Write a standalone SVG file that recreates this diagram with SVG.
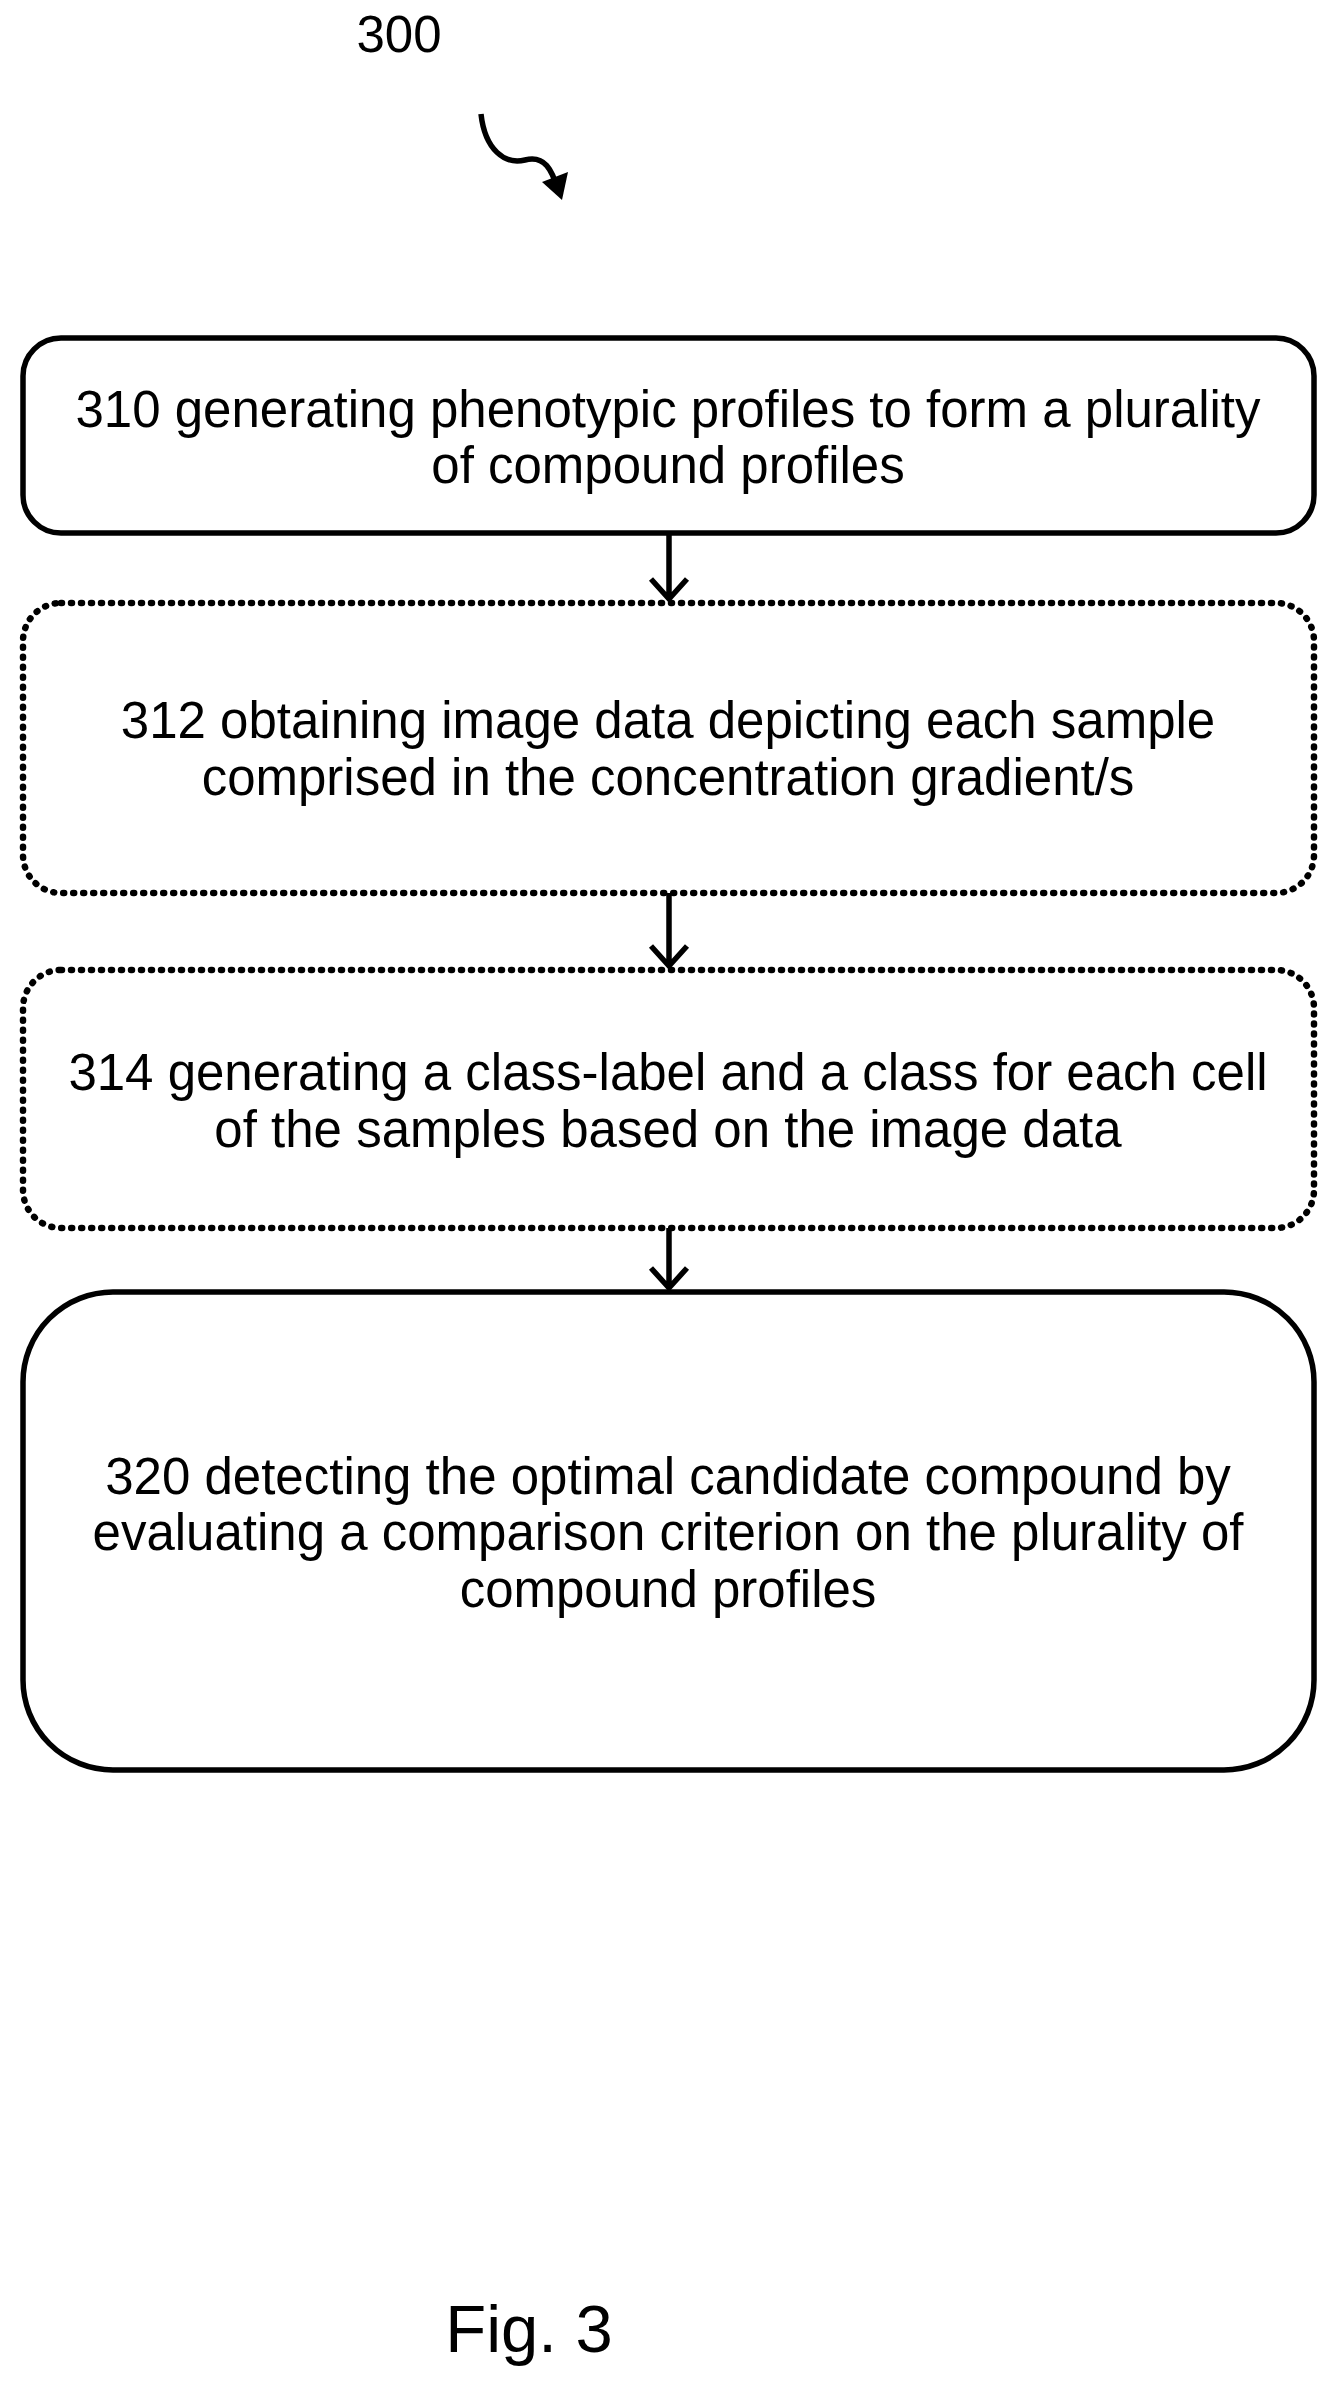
<svg xmlns="http://www.w3.org/2000/svg" width="1340" height="2391" viewBox="0 0 1340 2391">
<style>
text{font-family:"Liberation Sans",Arial,sans-serif;font-size:51px;fill:#000;text-anchor:middle}
.box{fill:#fff;stroke:#000;stroke-width:5.5}
.dot{stroke-dasharray:1 9;stroke-linecap:round;stroke-width:6.5}
.c{fill:none;stroke:#000;stroke-width:5.5}
</style>
<text x="399" y="52">300</text>
<g id="n310"><rect class="box" x="23" y="338" width="1291" height="195" rx="38"/><text x="668" y="427">310 generating phenotypic profiles to form a plurality</text><text x="668" y="483">of compound profiles</text></g>
<g id="n312"><rect class="box dot" x="23" y="603" width="1291" height="290" rx="38"/><text x="668" y="738">312 obtaining image data depicting each sample</text><text x="668" y="795">comprised in the concentration gradient/s</text></g>
<g id="n314"><rect class="box dot" x="23" y="970" width="1291" height="258" rx="38"/><text x="668" y="1090">314 generating a class-label and a class for each cell</text><text x="668" y="1147">of the samples based on the image data</text></g>
<g id="n320"><rect class="box" x="23" y="1292" width="1291" height="478" rx="90"/><text x="668" y="1494">320 detecting the optimal candidate compound by</text><text x="668" y="1550">evaluating a comparison criterion on the plurality of</text><text x="668" y="1607">compound profiles</text></g>
<g id="connectors">
<path class="c" d="M481,114 C485,150 505,165 525,160 C545,155 552,170 558,190"/>
<path d="M542,182 L562,200 L568,172 Z" fill="#000"/>
<path class="c" d="M669,533 V598 M651,579 L669,599 L687,579"/>
<path class="c" d="M669,893 V965 M651,946 L669,966 L687,946"/>
<path class="c" d="M669,1228 V1287 M651,1268 L669,1288 L687,1268"/>
</g>
<text x="529" y="2352" style="font-size:67px">Fig. 3</text>
</svg>
